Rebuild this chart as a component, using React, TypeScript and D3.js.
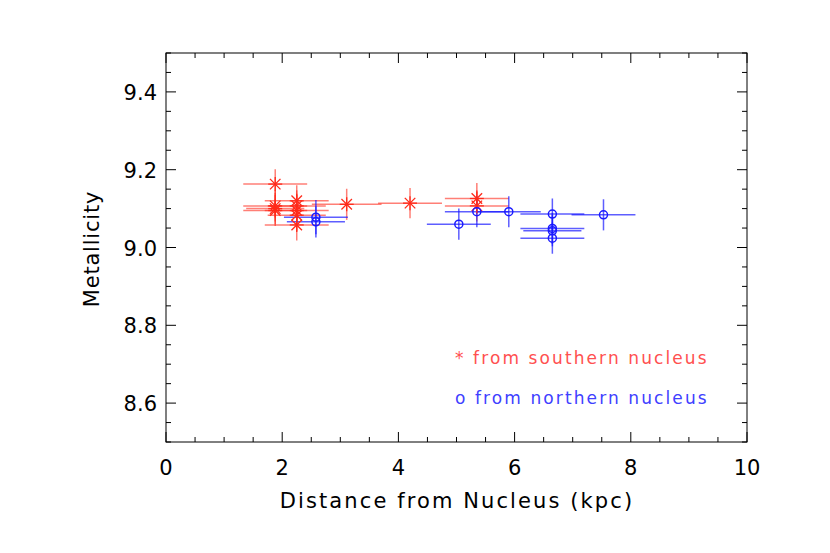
import React from "react";
import { scaleLinear, range } from "d3";

// southern nucleus (red asterisks)
const southDist = [1.88, 1.88, 1.88, 1.88, 2.25, 2.25, 2.25, 2.25, 2.25, 3.11, 4.2, 5.35, 5.35];
const southMetal = [9.163, 9.107, 9.1, 9.095, 9.12, 9.107, 9.095, 9.083, 9.058, 9.111, 9.114, 9.126, 9.107];
const southDistErr = [0.55, 0.55, 0.5, 0.55, 0.55, 0.5, 0.55, 0.5, 0.55, 0.6, 0.55, 0.55, 0.55];
const southMetalErr = [0.038, 0.04, 0.04, 0.04, 0.04, 0.04, 0.04, 0.04, 0.04, 0.04, 0.039, 0.04, 0.04];

// northern nucleus (blue circles)
const northDist = [2.58, 2.58, 5.04, 5.35, 5.9, 6.65, 6.65, 6.65, 6.65, 7.53];
const northMetal = [9.078, 9.066, 9.06, 9.092, 9.092, 9.086, 9.049, 9.043, 9.024, 9.084];
const northDistErr = [0.55, 0.5, 0.55, 0.55, 0.55, 0.55, 0.55, 0.5, 0.55, 0.55];
const northMetalErr = [0.044, 0.04, 0.04, 0.04, 0.04, 0.04, 0.04, 0.04, 0.04, 0.04];

const xTicks = [0, 2, 4, 6, 8, 10];
const yTicks = [8.6, 8.8, 9.0, 9.2, 9.4];

const RED = "#ff2a1a";
const BLUE = "#1a1aff";
const FONT = "'DejaVu Sans', sans-serif";

export default function App() {
  const left = 166, right = 747, top = 53, bottom = 442;
  const x = scaleLinear().domain([0, 10]).range([left, right]);
  const y = scaleLinear().domain([8.5, 9.5]).range([bottom, top]);

  const xMinor = range(0, 10.001, 0.5);
  const yMinor = range(8.5, 9.501, 0.05);

  // IDL style asterisk
  const star = (cx: number, cy: number, r: number, key: string) => (
    <g key={key} stroke={RED} strokeWidth={1.3}>
      <line x1={cx - r} x2={cx + r} y1={cy} y2={cy} />
      <line x1={cx} x2={cx} y1={cy - r} y2={cy + r} />
      <line x1={cx - r * 0.75} x2={cx + r * 0.75} y1={cy - r * 0.75} y2={cy + r * 0.75} />
      <line x1={cx - r * 0.75} x2={cx + r * 0.75} y1={cy + r * 0.75} y2={cy - r * 0.75} />
    </g>
  );

  return (
    <svg width={830} height={553} style={{ position: "absolute", left: 0, top: 0 }}>
      <rect width={830} height={553} fill="#fff" />

      {/* error bars */}
      {southDist.map((d, i) => (
        <g key={"se" + i} stroke={RED} strokeOpacity={0.6} strokeWidth={1.5}>
          <line x1={x(d - southDistErr[i])} x2={x(d + southDistErr[i])} y1={y(southMetal[i])} y2={y(southMetal[i])} />
          <line x1={x(d)} x2={x(d)} y1={y(southMetal[i] - southMetalErr[i])} y2={y(southMetal[i] + southMetalErr[i])} />
        </g>
      ))}
      {northDist.map((d, i) => (
        <g key={"ne" + i} stroke={BLUE} strokeOpacity={0.7} strokeWidth={1.5}>
          <line x1={x(d - northDistErr[i])} x2={x(d + northDistErr[i])} y1={y(northMetal[i])} y2={y(northMetal[i])} />
          <line x1={x(d)} x2={x(d)} y1={y(northMetal[i] - northMetalErr[i])} y2={y(northMetal[i] + northMetalErr[i])} />
        </g>
      ))}

      {/* markers */}
      {southDist.map((d, i) => star(x(d), y(southMetal[i]), 7, "s" + i))}
      {northDist.map((d, i) => (
        <circle key={"n" + i} cx={x(d)} cy={y(northMetal[i])} r={4} fill="none" stroke={BLUE} strokeWidth={1.5} />
      ))}

      {/* frame */}
      <rect x={left} y={top} width={right - left} height={bottom - top} fill="none" stroke="#000" strokeWidth={1} />

      {/* x ticks */}
      {xMinor.map((v) => {
        const major = Math.abs(v / 2 - Math.round(v / 2)) < 1e-6;
        const len = major ? 10 : 5;
        return (
          <g key={"xt" + v} stroke="#000">
            <line x1={x(v)} x2={x(v)} y1={bottom} y2={bottom - len} />
            <line x1={x(v)} x2={x(v)} y1={top} y2={top + len} />
          </g>
        );
      })}
      {/* y ticks */}
      {yMinor.map((v) => {
        const major = Math.abs(v / 0.2 - Math.round(v / 0.2)) < 1e-6;
        const len = major ? 10 : 5;
        return (
          <g key={"yt" + v.toFixed(2)} stroke="#000">
            <line x1={left} x2={left + len} y1={y(v)} y2={y(v)} />
            <line x1={right} x2={right - len} y1={y(v)} y2={y(v)} />
          </g>
        );
      })}

      {xTicks.map((v) => (
        <text key={"xl" + v} x={x(v)} y={475} textAnchor="middle" fontFamily={FONT} fontSize={21} fill="#000">
          {v}
        </text>
      ))}
      {yTicks.map((v) => (
        <text key={"yl" + v} x={157} y={y(v) + 8} textAnchor="end" fontFamily={FONT} fontSize={21} fill="#000">
          {v.toFixed(1)}
        </text>
      ))}

      <text x={457} y={508} textAnchor="middle" fontFamily={FONT} fontSize={21} letterSpacing={2.1} fill="#000">
        Distance from Nucleus (kpc)
      </text>
      <text transform="translate(99,249) rotate(-90)" textAnchor="middle" fontFamily={FONT} fontSize={21} letterSpacing={0.8} fill="#000">
        Metallicity
      </text>

      {/* legend */}
      <text x={455} y={364} fontFamily={FONT} fontSize={17} letterSpacing={2.1} fill="#ff5050">
        * from southern nucleus
      </text>
      <text x={455} y={404} fontFamily={FONT} fontSize={17} letterSpacing={2.1} fill="#4040ff">
        o from northern nucleus
      </text>
    </svg>
  );
}
